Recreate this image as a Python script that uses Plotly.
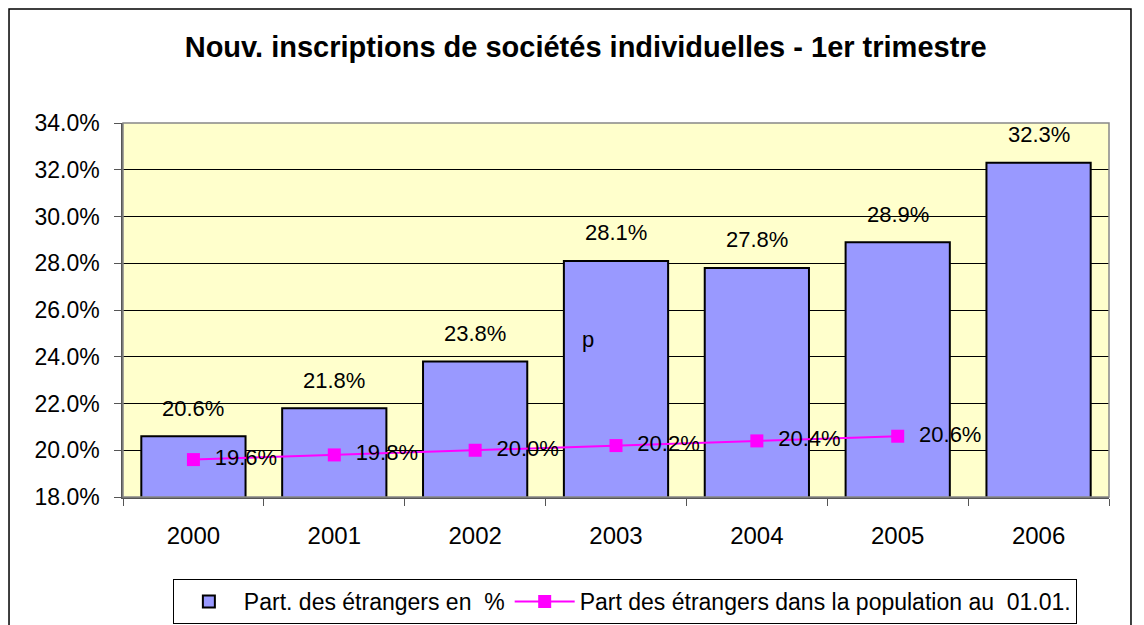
import plotly.graph_objects as go

years = ["2000", "2001", "2002", "2003", "2004", "2005", "2006"]
bar_values = [20.6, 21.8, 23.8, 28.1, 27.8, 28.9, 32.3]
line_values = [19.6, 19.8, 20.0, 20.2, 20.4, 20.6]  # 2000-2005
y_ticks = [18, 20, 22, 24, 26, 28, 30, 32, 34]
y_tick_labels = [f"{v:.1f}%" for v in y_ticks]

FONT = "Liberation Sans, Arial, sans-serif"
FS = 22

pos = list(range(len(years)))
line_pos = pos[:len(line_values)]

fig = go.Figure()
fig.add_trace(go.Bar(
    x=pos, y=bar_values, name="Part. des étrangers en  %",
    marker=dict(color="#9999FF", line=dict(color="black", width=2)),
    width=0.74,
))
fig.add_trace(go.Scatter(
    x=line_pos, y=line_values, name="Part des étrangers dans la population au  01.01.",
    mode="lines+markers+text",
    line=dict(color="#FF00FF", width=2),
    marker=dict(symbol="square", size=13, color="#FF00FF"),
    text=[f"  {v:.1f}%" for v in line_values],
    textposition="middle right",
    textfont=dict(size=FS, color="black", family=FONT),
    cliponaxis=False,
))

annotations = []
for p, v in zip(pos, bar_values):
    annotations.append(dict(x=p, y=v, xref="x", yref="y", text=f"{v:.1f}%",
                            showarrow=False, yanchor="middle", yshift=28,
                            font=dict(size=FS, color="black", family=FONT)))
annotations.append(dict(x=0.4716, y=0.42, xref="paper", yref="paper", text="p",
                        showarrow=False, font=dict(size=FS, color="black", family=FONT)))

fig.update_layout(
    width=1144, height=625,
    margin=dict(l=115, r=43, t=115, b=136),
    paper_bgcolor="white",
    plot_bgcolor="#FFFFCC",
    title=dict(text="<b>Nouv. inscriptions de sociétés individuelles - 1er trimestre</b>",
               x=0.505, xanchor="center", y=0.9376, yanchor="middle",
               font=dict(size=29, color="black", family=FONT)),
    font=dict(family=FONT, color="black", size=FS),
    showlegend=True,
    legend=dict(orientation="h", x=0.509, xanchor="center",
                yref="container", y=0.0864, yanchor="top",
                bordercolor="black", borderwidth=1, bgcolor="white",
                font=dict(size=23, family=FONT), traceorder="normal", itemwidth=60),
    annotations=annotations,
    shapes=[dict(type="rect", xref="paper", yref="paper",
                 x0=-0.1156, x1=1.0223, y0=-0.36, y1=1.3048,
                 line=dict(color="black", width=1.5), layer="below")],
)
fig.update_xaxes(range=[-0.5, len(years) - 0.5], tickvals=pos, ticktext=years,
                 showgrid=False, showline=True, linecolor="#555555", linewidth=1.5,
                 ticks="", zeroline=False, ticklabelstandoff=16,
                 minor=dict(tickvals=[p - 0.5 for p in pos] + [len(years) - 0.5],
                            ticks="outside", ticklen=7, tickcolor="#555555", showgrid=False),
                 tickfont=dict(size=24, family=FONT))
fig.update_yaxes(range=[18, 34], tickvals=y_ticks, ticktext=y_tick_labels,
                 showgrid=True, gridcolor="black", gridwidth=1,
                 showline=True, linecolor="#555555", linewidth=1.5,
                 ticks="outside", ticklen=7, tickcolor="#555555", ticklabelstandoff=10,
                 tickfont=dict(size=23, family=FONT), zeroline=False)
fig.add_shape(type="rect", xref="paper", yref="paper", x0=0, x1=1, y0=0, y1=1,
              line=dict(color="#888888", width=1.5))

fig.write_html("out.html")
